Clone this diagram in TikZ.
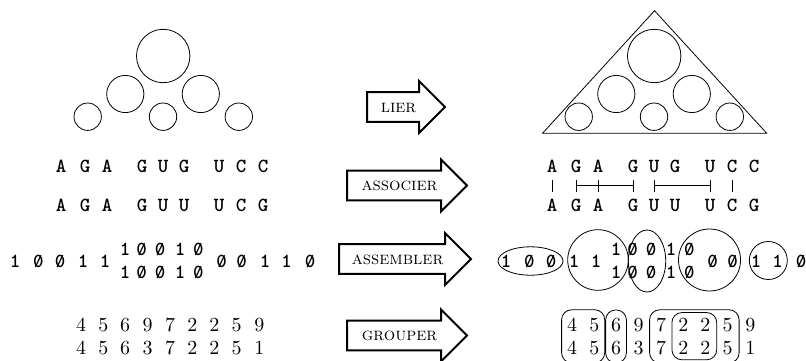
\documentclass[tikz,border=0pt]{standalone}
\usepackage{tikz}
\usetikzlibrary{shapes.arrows}
\usetikzlibrary{shapes.geometric}
\usetikzlibrary{fit}
\newcommand{\zr}{\ooalign{0\cr\hidewidth\raisebox{.1ex}{\scalebox{.8}{/}}\hidewidth\cr}}
\tikzset{
    tnode/.style = {inner sep=0pt, anchor=base},
    nuc/.style = {tnode, font=\ttfamily\bfseries},
    bit/.style = {tnode, font=\ttfamily\bfseries},
    num/.style = {tnode},
    ring/.style = {circle, draw=black, thin, inner sep=0pt},
    oval/.style = {ellipse, draw=black, thin, inner sep=0pt},
    grp/.style = {rectangle, rounded corners=5pt, draw=black, thin, inner xsep=2.5pt, inner ysep=4pt},
    op/.style = {single arrow, draw=black, line width=1pt, single arrow head extend=5.5pt,
                 text height=1.4ex, text depth=0.2ex, inner ysep=3.5pt, font=\small\scshape, anchor=tail}
}

\begin{document}
\begin{tikzpicture}[x=0.5pt, y=-0.5pt]
    \useasboundingbox (0,0) rectangle (806,360);

    % circles, free and bound
    \foreach \s/\dx in {l/0, r/491}{
        \node [ring, minimum size=26.7pt] (\s big) at (163.2+\dx,56) {};
        \node [ring, minimum size=18.6pt] (\s ml) at (125.3+\dx,94) {};
        \node [ring, minimum size=18.6pt] (\s mr) at (200.8+\dx,94) {};
        \node [ring, minimum size=13.7pt] (\s sl) at (87.7+\dx,116.7) {};
        \node [ring, minimum size=13.7pt] (\s sm) at (163+\dx,116.7) {};
        \node [ring, minimum size=13.7pt] (\s sr) at (238.8+\dx,116.7) {};
    }
    \draw [thin] (654.5,10.7) -- (766.7,133.3) -- (542.5,133.3) -- cycle;

    \node [op, minimum height=39pt] (lier) at (366,107) {lier};
    \node [op, minimum height=60pt] (assoc) at (346,185.5) {associer};
    \node [op, minimum height=66pt] (assem) at (338,259) {assembler};
    \node [op, minimum height=60pt] (group) at (346,335.5) {grouper};

    % two strands
    \foreach \s/\dx in {l/0, r/491}{
        \foreach \x/\a/\b [count=\i] in {61/A/A, 85/G/G, 107/A/A, 142/G/G, 163/U/U, 184/G/U, 219/U/U, 241/C/C, 263/C/G}{
            \node [nuc] (\s u\i) at (\x+\dx,172.7) {\a};
            \node [nuc] (\s d\i) at (\x+\dx,211.7) {\b};
        }
    }
    \coordinate (tt) at (0,180);
    \coordinate (tm) at (0,185.8);
    \coordinate (tb) at (0,191.5);
    \foreach \i in {1,2,3,4,5,7,8}
        \draw [thin] (ru\i |- tt) -- (ru\i |- tb);
    \draw [thin] (ru2 |- tm) -- (ru4 |- tm);
    \draw [thin] (ru5 |- tm) -- (ru7 |- tm);

    % bits
    \foreach \s/\dx in {l/0, r/491}{
        \foreach \x/\v [count=\i] in {15/1, 38.3/\zr, 60/\zr, 83/1, 105/1, 221.7/\zr, 241.7/\zr, 265/1, 286.7/1, 310/\zr}
            \node [bit] (\s b\i) at (\x+\dx,267) {\v};
        \foreach \x/\v [count=\i] in {125/1, 141.7/\zr, 160/\zr, 180/1, 198.3/\zr}{
            \node [bit] (\s p\i) at (\x+\dx,255) {\v};
            \node [bit] (\s q\i) at (\x+\dx,278) {\v};
        }
    }
    \node [oval, minimum width=32.5pt, minimum height=14.2pt] (g1) at (530.5,261) {};
    \node [ring, minimum size=30.3pt] (g2) at (598,260) {};
    \node [oval, minimum width=18.7pt, minimum height=31pt] (g3) at (647,261) {};
    \node [ring, minimum size=31pt] (g4) at (709.5,260) {};
    \node [ring, minimum size=19pt] (g5) at (768.3,260.5) {};

    % numbers
    \foreach \s/\dx in {l/0, r/491}{
        \foreach \x/\a/\b [count=\i] in {81/4/4, 103.3/5/5, 125/6/6, 147.7/9/3, 170/7/7, 192.3/2/2, 214.3/2/2, 236.7/5/5, 259.3/9/1}{
            \node [num] (\s t\i) at (\x+\dx,331.7) {\a};
            \node [num] (\s w\i) at (\x+\dx,354) {\b};
        }
    }
    \node [grp, fit=(rt1)(rw2)] (k1) {};
    \node [grp, fit=(rt3)(rw3)] (k2) {};
    \node [grp, fit=(rt5)(rw8), inner xsep=3pt] (k3) {};
    \node [grp, fit=(rt6)(rw7), inner xsep=3pt, inner ysep=2.7pt] (k4) {};
\end{tikzpicture}
\end{document}
